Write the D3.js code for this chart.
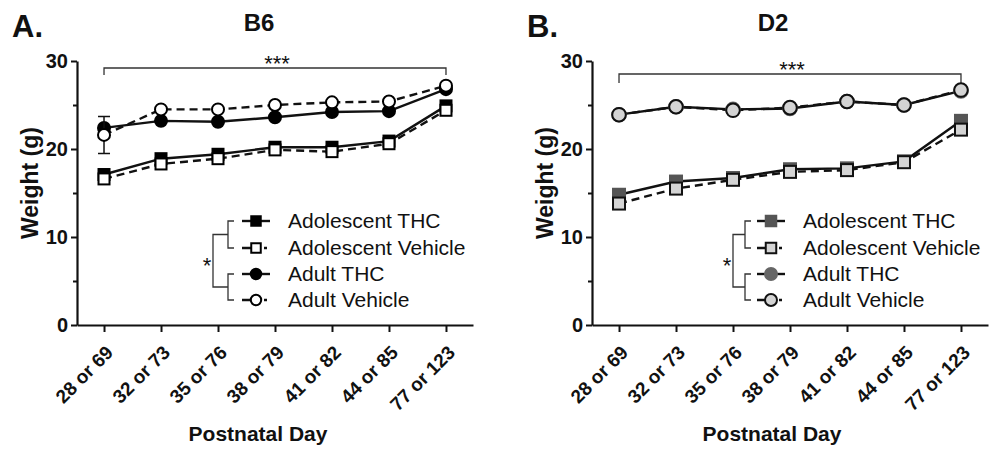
<!DOCTYPE html>
<html><head><meta charset="utf-8">
<script src="https://cdn.jsdelivr.net/npm/d3@7"></script>
<style>
body{margin:0;background:#fff}
svg{display:block}
text{font-family:"Liberation Sans",Arial,Helvetica,sans-serif;fill:#111}
</style>
</head><body>
<svg id="chart" width="990" height="452"></svg>
<script>
// ---------- data ----------
const days = ["28 or 69","32 or 73","35 or 76","38 or 79","41 or 82","44 or 85","77 or 123"];
const yTickValues = [0,10,20,30];
const yMinorTicks = [5,15,25];
const seriesNames = ["Adolescent THC","Adolescent Vehicle","Adult THC","Adult Vehicle"];

const b6AdolescentTHC     = [17.1,18.9,19.4,20.2,20.2,20.9,24.9];
const b6AdolescentVehicle = [16.6,18.3,18.9,19.9,19.7,20.6,24.4];
const b6AdultTHC          = [22.4,23.2,23.1,23.6,24.2,24.3,26.8];
const b6AdultVehicle      = [21.6,24.5,24.5,25.0,25.3,25.4,27.2];
const b6AdultVehicleSEM   = [2.1,0,0,0,0,0,0];

const d2AdolescentTHC     = [14.8,16.3,16.7,17.7,17.8,18.6,23.2];
const d2AdolescentVehicle = [13.8,15.5,16.5,17.4,17.6,18.5,22.2];
const d2AdultTHC          = [23.9,24.8,24.5,24.6,25.4,25.0,26.6];
const d2AdultVehicle      = [23.9,24.8,24.4,24.7,25.4,25.0,26.7];

// ---------- layout ----------
const svg = d3.select("#chart");
const panels = [
  { letter:"A.", title:"B6", left:77, letterX:12, titleX:259,
    series:[b6AdolescentTHC,b6AdolescentVehicle,b6AdultTHC,b6AdultVehicle],
    sem:[null,null,null,b6AdultVehicleSEM],
    fills:["#000","#fff","#000","#fff"], strokes:["#000","#000","#000","#000"],
    sq:11, r:6, brY:68, brDrop:7,
    legMarkX:256, legTextX:288, innerX:228, outerX:213, starX:207 },
  { letter:"B.", title:"D2", left:592, letterX:527, titleX:773,
    series:[d2AdolescentTHC,d2AdolescentVehicle,d2AdultTHC,d2AdultVehicle],
    sem:[null,null,null,null],
    fills:["#555","#d4d4d4","#666","#d4d4d4"], strokes:["#555","#111","#666","#111"],
    sq:12, r:6.8, brY:74, brDrop:9,
    legMarkX:771, legTextX:803, innerX:745, outerX:733, starX:727 }
];
const shapes = ["square","square","circle","circle"];
const dashed = [false,true,false,true];
const legendRows = [221,248,274,300];
const drawOrder = [0,1,2,3];

function marker(g, type, cx, cy, size, r, fill, stroke){
  if(type==="square"){
    g.append("rect").attr("x",cx-size/2).attr("y",cy-size/2).attr("width",size).attr("height",size)
      .attr("fill",fill).attr("stroke",stroke).attr("stroke-width",2);
  } else {
    g.append("circle").attr("cx",cx).attr("cy",cy).attr("r",r)
      .attr("fill",fill).attr("stroke",stroke).attr("stroke-width",2);
  }
}

panels.forEach(p => {
  const g = svg.append("g");
  const x = d3.scaleLinear().domain([-0.474, 6.474]).range([p.left, p.left+396]);
  const y = d3.scaleLinear().domain([0,30]).range([325,61]);

  // titles
  g.append("text").attr("x",p.letterX).attr("y",37).attr("font-size",31).attr("font-weight","bold").text(p.letter);
  g.append("text").attr("x",p.titleX).attr("y",31).attr("text-anchor","middle").attr("font-size",24).attr("font-weight","bold").text(p.title);

  // y axis
  const ya = g.append("g").attr("transform",`translate(${p.left},0)`)
    .call(d3.axisLeft(y).tickValues(yTickValues).tickSize(6).tickSizeOuter(0).tickPadding(3));
  ya.select(".domain").attr("stroke","#111").attr("stroke-width",2.2);
  ya.selectAll(".tick line").attr("stroke","#111").attr("stroke-width",2);
  ya.selectAll(".tick text").attr("font-size",20).attr("font-weight","bold").attr("font-family",null).attr("fill","#111");
  const ym = g.append("g").attr("transform",`translate(${p.left},0)`)
    .call(d3.axisLeft(y).tickValues(yMinorTicks).tickSize(4).tickFormat(""));
  ym.select(".domain").remove();
  ym.selectAll(".tick line").attr("stroke","#111").attr("stroke-width",2);

  // x axis
  const xa = g.append("g").attr("transform","translate(0,325)")
    .call(d3.axisBottom(x).tickValues(d3.range(days.length)).tickFormat(i=>days[i]).tickSize(7).tickSizeOuter(0));
  xa.select(".domain").attr("stroke","#111").attr("stroke-width",2.2);
  xa.selectAll(".tick line").attr("stroke","#111").attr("stroke-width",2);
  xa.selectAll(".tick text").attr("font-size",19).attr("font-weight","bold").attr("font-family",null).attr("fill","#111")
    .attr("x",0).attr("y",0).attr("dy","0.35em").attr("text-anchor","end")
    .attr("transform","translate(5,24) rotate(-45)");

  // axis titles
  g.append("text").attr("transform",`translate(${p.left-39},183) rotate(-90)`).attr("text-anchor","middle")
    .attr("font-size",23).attr("font-weight","bold").text("Weight (g)");
  g.append("text").attr("x",p.titleX-1).attr("y",441).attr("text-anchor","middle")
    .attr("font-size",21).attr("font-weight","bold").text("Postnatal Day");

  // significance bracket
  const x0 = x(0), x6 = x(days.length-1);
  g.append("path").attr("d",`M${x0},${p.brY+p.brDrop}V${p.brY}H${x6}V${p.brY+p.brDrop}`)
    .attr("fill","none").attr("stroke","#333").attr("stroke-width",1.3);
  g.append("text").attr("x",(x0+x6)/2+2).attr("y",p.brY+3).attr("text-anchor","middle").attr("font-size",22).text("***");

  // lines
  drawOrder.forEach(k => {
    const line = d3.line().x((d,i)=>x(i)).y(d=>y(d));
    g.append("path").datum(p.series[k]).attr("d",line).attr("fill","none")
      .attr("stroke","#111").attr("stroke-width",2.4)
      .attr("stroke-dasharray",dashed[k]?"8,5":null);
  });
  // error bars + markers
  drawOrder.forEach(k => {
    const mg = g.append("g");
    if(p.sem[k]){
      p.sem[k].forEach((s,i)=>{
        if(!s) return;
        const v = p.series[k][i], cx = x(i);
        mg.append("path").attr("d",`M${cx},${y(v-s)}V${y(v+s)}M${cx-6},${y(v-s)}H${cx+6}M${cx-6},${y(v+s)}H${cx+6}`)
          .attr("stroke","#111").attr("stroke-width",1.5).attr("fill","none");
      });
    }
    p.series[k].forEach((v,i)=>marker(mg,shapes[k],x(i),y(v),p.sq,p.r,p.fills[k],p.strokes[k]));
  });

  // legend
  const lg = g.append("g");
  seriesNames.forEach((name,k)=>{
    const ly = legendRows[k];
    lg.append("line").attr("x1",p.legMarkX-14).attr("x2",p.legMarkX+14).attr("y1",ly).attr("y2",ly)
      .attr("stroke","#111").attr("stroke-width",2.4).attr("stroke-dasharray",dashed[k]?"12,10,3,10":null);
    marker(lg,shapes[k],p.legMarkX,ly,p.sq-1.5,p.r-0.8,p.fills[k],p.strokes[k]);
    lg.append("text").attr("x",p.legTextX).attr("y",ly).attr("dy","0.35em").attr("font-size",21).text(name);
  });
  // grouping brackets
  const brk = (a,b,xl,xr)=>`M${xr},${a}H${xl}V${b}H${xr}`;
  lg.append("path").attr("d",brk(legendRows[0],legendRows[1],p.innerX,p.innerX+6)+brk(legendRows[2],legendRows[3],p.innerX,p.innerX+6))
    .attr("fill","none").attr("stroke","#333").attr("stroke-width",1.3);
  const m1=(legendRows[0]+legendRows[1])/2, m2=(legendRows[2]+legendRows[3])/2;
  lg.append("path").attr("d",brk(m1,m2,p.outerX,p.innerX)).attr("fill","none").attr("stroke","#333").attr("stroke-width",1.3);
  lg.append("text").attr("x",p.starX).attr("y",(m1+m2)/2+12).attr("text-anchor","middle").attr("font-size",22).text("*");
});
</script>
</body></html>
